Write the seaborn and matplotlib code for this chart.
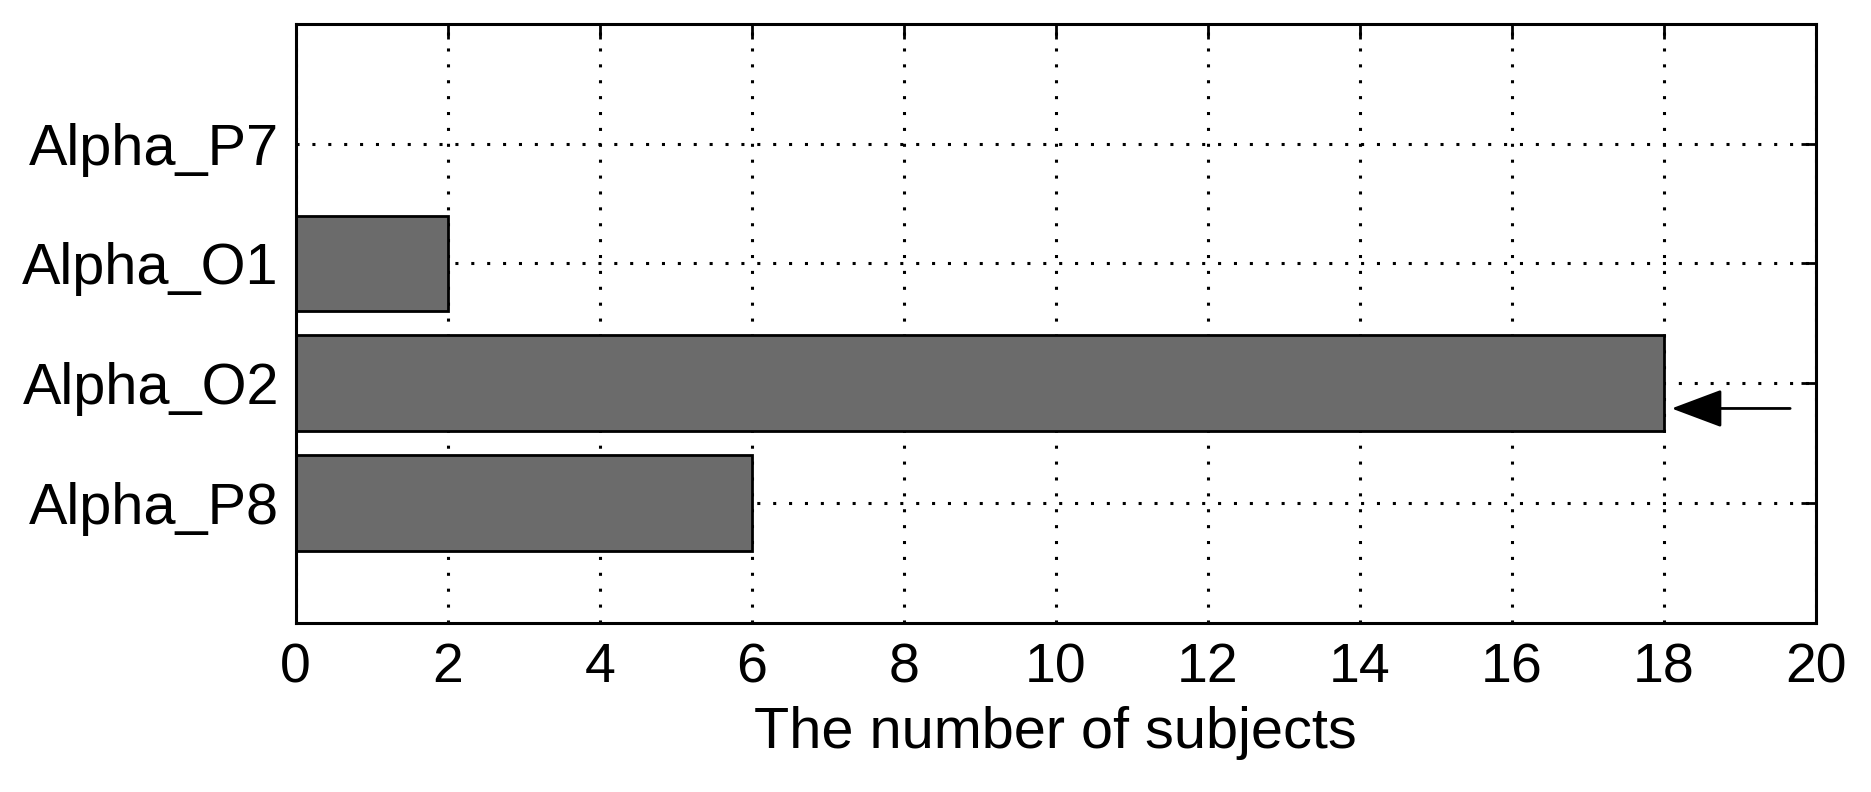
import matplotlib
matplotlib.use("Agg")
import matplotlib.pyplot as plt
import seaborn as sns
import pandas as pd

# Datos
canales = ["Alpha_P7", "Alpha_O1", "Alpha_O2", "Alpha_P8"]
sujetos = [0, 2, 18, 6]
ticks_x = [0, 2, 4, 6, 8, 10, 12, 14, 16, 18, 20]

df = pd.DataFrame({"canal": canales, "sujetos": sujetos})

sns.set_style("white")
plt.rcParams["font.family"] = ["Liberation Sans", "DejaVu Sans"]

fig, ax = plt.subplots(figsize=(18.71, 7.92), dpi=100)
fig.subplots_adjust(left=0.158, right=0.9706, top=0.970, bottom=0.2134)

sns.barplot(
    data=df,
    x="sujetos",
    y="canal",
    order=canales,
    orient="h",
    color="#6b6b6b",
    saturation=1,
    width=0.8,
    edgecolor="black",
    linewidth=2,
    ax=ax,
)

ax.set_xlim(0, 20)
ax.set_ylim(4, -1)
ax.set_xticks(ticks_x)
ax.set_xticklabels([str(t) for t in ticks_x])

# Cuadricula punteada como en MATLAB
ax.set_axisbelow(True)
ax.grid(True, color="black", linestyle=(0, (1, 4.2)), linewidth=2.2)

for s in ax.spines.values():
    s.set_visible(True)
    s.set_color("black")
    s.set_linewidth(2.2)

ax.tick_params(axis="both", direction="in", length=11, width=2,
               top=True, right=True, colors="black")
ax.tick_params(axis="x", pad=14, labelsize=40)
ax.tick_params(axis="y", pad=12, labelsize=41.5)

ax.set_xlabel("The number of subjects", fontsize=41.5, labelpad=8,
              color="black")
ax.set_ylabel("")

# Flecha que señala Alpha_O2
ax.annotate(
    "",
    xy=(18.1, 2.21),
    xytext=(19.66, 2.21),
    arrowprops=dict(arrowstyle="-|>,head_length=1.6,head_width=0.6",
                    mutation_scale=20, color="black", lw=2,
                    shrinkA=0, shrinkB=0),
    annotation_clip=False,
)

plt.savefig("out.png", dpi=100)
